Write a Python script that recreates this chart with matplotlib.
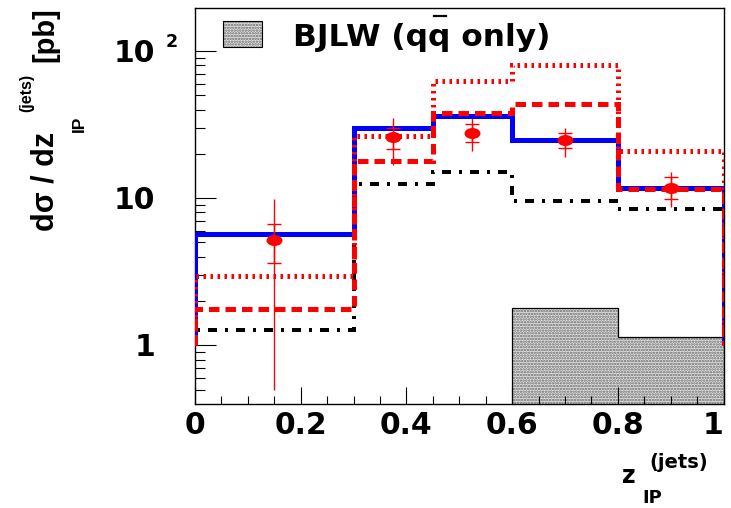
import numpy as np
import matplotlib
matplotlib.use("Agg")
import matplotlib.pyplot as plt
from matplotlib.path import Path
from matplotlib.patches import Rectangle
from matplotlib.lines import Line2D
from matplotlib.ticker import MultipleLocator, LogLocator, NullFormatter
from matplotlib.transforms import offset_copy

# ---------------- data ----------------
edges = [0.0, 0.3, 0.45, 0.6, 0.8, 1.0]
blue_solid = [5.7, 29.8, 36.1, 24.8, 11.8]
red_dotted = [2.95, 26.4, 62.2, 80.0, 21.0]
red_dashed = [1.77, 17.9, 38.0, 43.8, 11.6]
black_dashdot = [1.26, 12.4, 15.1, 9.5, 8.4]

bjlw_edges = [0.6, 0.8, 1.0]
bjlw_values = [1.79, 1.13]

data_x = [0.15, 0.375, 0.525, 0.7, 0.9]
data_y = [5.18, 25.9, 27.8, 24.8, 11.8]
stat_lo = [3.6, 21.6, 23.9, 21.8, 9.8]
stat_hi = [6.7, 29.9, 31.9, 27.6, 13.9]
tot_lo = [0.50, 16.7, 20.9, 19.1, 8.66]
tot_hi = [9.8, 34.9, 34.9, 30.1, 15.0]

xtick_vals = [0, 0.2, 0.4, 0.6, 0.8, 1.0]
xtick_labels = ["0", "0.2", "0.4", "0.6", "0.8", "1"]
ytick_vals = [1, 10, 100]
ytick_labels = ["1", "10", "10"]
ytick_sups = ["", "", "2"]
legend_label = "BJLW (qq only)"

# ---------------- figure ----------------
W, H = 731, 508
fig = plt.figure(figsize=(W / 100, H / 100), dpi=100)
fig.patch.set_facecolor("white")
plt.rcParams["lines.scale_dashes"] = False
plt.rcParams["hatch.linewidth"] = 1.2


def fx(px):
    return px / W


def fy(py):
    return 1 - py / H


ax = fig.add_axes([fx(195), fy(403.5), (723.5 - 195) / W, (403.5 - 7.5) / H])
ax.set_yscale("log")
ax.set_xlim(0, 1)
ax.set_ylim(0.402, 197.5)

BOLD_DJ = dict(family="DejaVu Sans", weight="bold")
BOLD_LB = dict(family="Liberation Sans", weight="bold")

FILL_FC = "#e4e4e4"
FILL_HC = "#666666"
FILL_HATCH = "......"

# grey BJLW histogram (dotted fill)
ax.stairs(bjlw_values, bjlw_edges, baseline=1e-3, fill=True, facecolor=FILL_FC,
          edgecolor=FILL_HC, hatch=FILL_HATCH, linewidth=0, zorder=1)
ax.stairs(bjlw_values, bjlw_edges, baseline=1e-3, fill=False, edgecolor="black",
          linewidth=0.9, zorder=1.1)

px2pt = 0.72
# black dash-dot
ax.stairs(black_dashdot, edges, baseline=1.0, color="black", linewidth=4 * px2pt,
          linestyle=(0, (9 * px2pt, 8 * px2pt, 3 * px2pt, 8 * px2pt)), zorder=2)
# blue solid
ax.stairs(blue_solid, edges, baseline=1.0, color="#0000ff", linewidth=5 * px2pt, zorder=3)
# red dotted
ax.stairs(red_dotted, edges, baseline=1.0, color="#ff0000", linewidth=5 * px2pt,
          linestyle=(0, (2.5 * px2pt, 4.5 * px2pt)), zorder=4)
# red dashed
ax.stairs(red_dashed, edges, baseline=1.0, color="#ff0000", linewidth=5 * px2pt,
          linestyle=(0, (10.5 * px2pt, 6 * px2pt)), zorder=5)

# data points
dy = np.array(data_y)
ax.errorbar(data_x, data_y, yerr=[dy - np.array(tot_lo), np.array(tot_hi) - dy],
            fmt="none", ecolor="#ff0000", elinewidth=1.0, zorder=6)
ax.errorbar(data_x, data_y, yerr=[dy - np.array(stat_lo), np.array(stat_hi) - dy],
            fmt="none", ecolor="#ff0000", elinewidth=1.0, capsize=4.8, capthick=1.0, zorder=6)
circ = Path.unit_circle()
ell = Path(circ.vertices * np.array([1.45, 1.0]), circ.codes)
ax.plot(data_x, data_y, linestyle="none", marker=ell, markersize=11.5,
        color="#ff0000", markeredgewidth=0, zorder=7)

# ticks
ax.xaxis.set_minor_locator(MultipleLocator(0.05))
ax.set_xticks(xtick_vals)
ax.set_xticklabels(xtick_labels, fontsize=21.5, **BOLD_DJ)
ax.get_xticklabels()[-1].set_horizontalalignment("right")
ax.yaxis.set_major_locator(LogLocator(base=10, numticks=10))
ax.yaxis.set_minor_locator(LogLocator(base=10, subs=np.arange(2, 10), numticks=20))
ax.yaxis.set_minor_formatter(NullFormatter())
ax.tick_params(axis="both", which="both", direction="in", top=False, right=False)
ax.tick_params(axis="x", which="major", length=12, width=0.8, pad=5.5)
ax.tick_params(axis="x", which="minor", length=5.8, width=0.8)
ax.tick_params(axis="y", which="major", length=15, width=0.8, labelleft=False)
ax.tick_params(axis="y", which="minor", length=7.2, width=0.8)
for s in ax.spines.values():
    s.set_linewidth(1.0)

# y tick labels drawn as text
ytrans = offset_copy(ax.get_yaxis_transform(), fig=fig, x=0, y=-11 * px2pt, units="points")
strans = offset_copy(ax.get_yaxis_transform(), fig=fig, x=0, y=4 * px2pt, units="points")
for v, lab, sup in zip(ytick_vals, ytick_labels, ytick_sups):
    ax.text((155 - 195) / 528.5, v, lab, transform=ytrans, ha="right", va="baseline",
            fontsize=21.5, **BOLD_DJ)
    if sup:
        ax.text((166 - 195) / 528.5, v, sup, transform=strans, ha="left", va="baseline",
                fontsize=12.5, **BOLD_DJ)

# y label pieces (rotated)
fig.text(fx(45), fy(231), "dσ / dz", rotation=90, ha="center", va="bottom", fontsize=22, **BOLD_LB)
fig.text(fx(79), fy(132), "IP", rotation=90, ha="center", va="bottom", fontsize=12.5, **BOLD_LB)
fig.text(fx(27), fy(112), "(jets)", rotation=90, ha="center", va="bottom", fontsize=11.5, **BOLD_LB)
fig.text(fx(45), fy(62), "[pb]", rotation=90, ha="center", va="bottom", fontsize=21, **BOLD_LB)

# x label pieces
fig.text(fx(622), fy(483), "z", ha="left", va="baseline", fontsize=17, **BOLD_DJ)
fig.text(fx(649), fy(467.5), "(jets)", ha="left", va="baseline", fontsize=14, **BOLD_DJ)
fig.text(fx(642), fy(503), "IP", ha="left", va="baseline", fontsize=13, **BOLD_DJ)

# legend
fig.patches.append(Rectangle((fx(223), fy(47)), (262 - 223) / W, (47 - 21) / H,
                             transform=fig.transFigure, facecolor=FILL_FC,
                             edgecolor=FILL_HC, hatch=FILL_HATCH, linewidth=0))
fig.patches.append(Rectangle((fx(223), fy(47)), (262 - 223) / W, (47 - 21) / H,
                             transform=fig.transFigure, facecolor="none",
                             edgecolor="black", linewidth=0.8))
lx, lb = 293, 46
t = fig.text(fx(lx), fy(lb), legend_label, ha="left", va="baseline", fontsize=22.5, **BOLD_DJ)
fig.canvas.draw()
r = fig.canvas.get_renderer()
w1, _, _ = r.get_text_width_height_descent(legend_label[:7], t.get_fontproperties(), ismath=False)
w2, _, _ = r.get_text_width_height_descent(legend_label[:8], t.get_fontproperties(), ismath=False)
cx = lx + (w1 + w2) / 2 + 1
fig.lines.append(Line2D([fx(cx - 6), fx(cx + 6)], [fy(16.5), fy(16.5)],
                        transform=fig.transFigure, color="black", linewidth=1.6))

fig.savefig("out.png", dpi=100, facecolor="white")
